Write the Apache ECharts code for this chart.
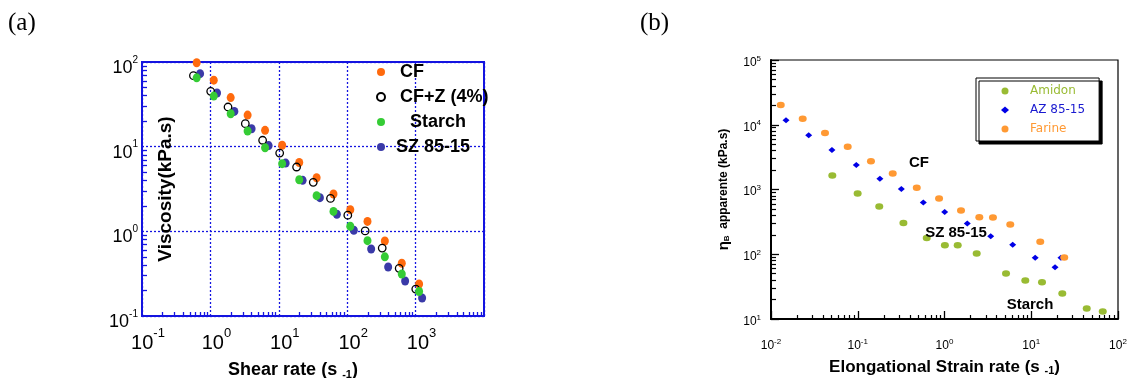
<!DOCTYPE html>
<html>
<head>
<meta charset="utf-8">
<title>Viscosity vs rate</title>
<script src="https://cdn.jsdelivr.net/npm/echarts@6.0.0/dist/echarts.min.js"></script>
<style>
  html, body { margin: 0; padding: 0; background: #fff; }
  #main { width: 1130px; height: 378px; }
</style>
</head>
<body>
<div id="main"></div>
<script>
// (a) shear viscosity, kPa.s vs shear rate s-1
const cfRate = [0.63, 1.12, 1.98, 3.5, 6.3, 11.2, 19.9, 35.7, 63, 111, 198, 355, 628, 1125];
const cfVisc = [98, 61, 38, 23.6, 15.6, 10.4, 6.5, 4.3, 2.76, 1.80, 1.31, 0.77, 0.42, 0.239];
const cfzRate = [0.565, 1.01, 1.81, 3.24, 5.8, 10.3, 18.2, 31.9, 57, 102, 183, 325, 575, 1005];
const cfzVisc = [69, 45, 29.4, 18.7, 11.9, 8.4, 5.75, 3.79, 2.45, 1.55, 1.01, 0.635, 0.366, 0.208];
const starchRate = [0.63, 1.12, 1.98, 3.5, 6.3, 11.2, 19.9, 35.7, 63, 111, 198, 355, 628, 1125];
const starchVisc = [65, 39.6, 24.5, 15.3, 9.7, 6.3, 4.07, 2.64, 1.72, 1.15, 0.776, 0.50, 0.313, 0.195];
const szRate = [0.707, 1.25, 2.24, 4.0, 7.1, 12.6, 22.3, 39.9, 70.6, 125, 224, 397, 703, 1245];
const szVisc = [72.8, 43, 26.1, 16.3, 10.3, 6.4, 4.0, 2.5, 1.59, 1.03, 0.618, 0.379, 0.259, 0.163];

// (b) apparent elongational viscosity, kPa.s vs elongational strain rate s-1
const amidonRate = [0.0509, 0.0997, 0.177, 0.336, 0.624, 1.01, 1.42, 2.35, 5.12, 8.54, 13.3, 22.8, 43.6, 66.7];
const amidonVisc = [1650, 871, 545, 303, 179, 138, 138, 103, 50.5, 39.4, 37.1, 24.8, 14.5, 13.1];
const azRate = [0.0149, 0.0272, 0.0504, 0.0962, 0.180, 0.318, 0.570, 1.005, 1.83, 3.41, 6.11, 11.1, 18.8, 22.0];
const azVisc = [11700, 6860, 4070, 2380, 1460, 1020, 628, 451, 299, 190, 140, 88, 63, 88];
const farineRate = [0.01295, 0.0232, 0.0419, 0.0766, 0.142, 0.253, 0.479, 0.865, 1.55, 2.52, 3.62, 5.73, 12.7, 24.0];
const farineVisc = [20100, 12400, 7450, 4570, 2720, 1770, 1060, 728, 475, 372, 368, 289, 156, 89];

// decade exponents that get a tick label
const shearTickExp = [-1, 0, 1, 2, 3];
const viscTickExpA = [-1, 0, 1, 2];
const strainTickExp = [-2, -1, 0, 1, 2];
const viscTickExpB = [1, 2, 3, 4, 5];

const FONT = 'Liberation Sans';
const BLUE = '#1414e0';

function pairs(xs, ys) {
  return xs.map((x, i) => [x, ys[i]]);
}
// 2..9 x 10^e minor tick values
function minorTicks(lo, hi) {
  const out = [];
  for (let e = lo; e < hi; e++) {
    for (let m = 2; m <= 9; m++) out.push(+(m * Math.pow(10, e)).toPrecision(3));
  }
  return out;
}
function powLabel(exps) {
  return function (v) {
    const e = Math.round(Math.log10(v));
    if (exps.indexOf(e) < 0) return '';
    return '{b|10}{sup|' + e + '}';
  };
}

const chart = echarts.init(document.getElementById('main'));

const option = {
  animation: false,
  backgroundColor: '#fff',
  grid: [
    { left: 142, top: 62, width: 342, height: 254, show: true, borderColor: BLUE, borderWidth: 2, outerBoundsMode: 'none', containLabel: false },
    { left: 771, top: 60, width: 347, height: 259, show: true, borderColor: '#000', borderWidth: 1.2, outerBoundsMode: 'none', containLabel: false }
  ],
  xAxis: [
    {
      type: 'log', gridIndex: 0, min: 0.1, max: 10000, position: 'bottom',
      name: 'Shear rate (s {sub|-1})', nameLocation: 'middle', nameGap: 44,
      nameTextStyle: {
        fontFamily: FONT, fontSize: 18, fontWeight: 'bold', color: '#000', lineHeight: 20,
        padding: [0, 40, 0, 0],
        rich: { sub: { fontSize: 11, fontWeight: 'bold', lineHeight: 14, verticalAlign: 'bottom' } }
      },
      axisLine: { show: true, lineStyle: { color: BLUE, width: 2 } },
      axisTick: { show: false },
      splitLine: { show: true, lineStyle: { color: BLUE, width: 1.3, type: [2, 2] } },
      axisLabel: {
        formatter: powLabel(shearTickExp), margin: 11, color: '#000', fontFamily: FONT,
        showMinLabel: true, showMaxLabel: true, padding: [0, 0, 0, 12],
        rich: {
          b: { fontSize: 20, lineHeight: 26, verticalAlign: 'bottom' },
          sup: { fontSize: 13, lineHeight: 13, verticalAlign: 'top' }
        }
      }
    },
    {
      type: 'log', gridIndex: 0, min: 0.1, max: 10000, position: 'bottom',
      axisLine: { show: false },
      axisTick: { show: true, inside: true, length: 4, customValues: minorTicks(-1, 4), lineStyle: { color: BLUE, width: 1.3 } },
      axisLabel: { show: false },
      splitLine: { show: false }
    },
    {
      type: 'log', gridIndex: 1, min: 0.01, max: 100, position: 'bottom',
      name: 'Elongational Strain rate (s {sub|-1})', nameLocation: 'middle', nameGap: 36,
      nameTextStyle: {
        fontFamily: FONT, fontSize: 17, fontWeight: 'bold', color: '#000', lineHeight: 20,
        rich: { sub: { fontSize: 11, fontWeight: 'bold', lineHeight: 14, verticalAlign: 'bottom' } }
      },
      axisLine: { show: true, lineStyle: { color: '#000', width: 2 } },
      axisTick: { show: true, inside: true, length: 8, lineStyle: { color: '#000', width: 1.3 } },
      splitLine: { show: false },
      axisLabel: {
        formatter: powLabel(strainTickExp), margin: 19, color: '#000', fontFamily: FONT,
        showMinLabel: true, showMaxLabel: true,
        rich: {
          b: { fontSize: 12, lineHeight: 14, verticalAlign: 'bottom' },
          sup: { fontSize: 8, lineHeight: 8, verticalAlign: 'top' }
        }
      }
    },
    {
      type: 'log', gridIndex: 1, min: 0.01, max: 100, position: 'bottom',
      axisLine: { show: false },
      axisTick: { show: true, inside: true, length: 4, customValues: minorTicks(-2, 2), lineStyle: { color: '#000', width: 1.2 } },
      axisLabel: { show: false },
      splitLine: { show: false }
    }
  ],
  yAxis: [
    {
      type: 'log', gridIndex: 0, min: 0.1, max: 100, position: 'left',
      name: 'Viscosity(kPa.s)', nameLocation: 'middle', nameRotate: 90, nameGap: -33,
      nameTextStyle: { fontFamily: FONT, fontSize: 19, fontWeight: 'bold', color: '#000' },
      axisLine: { show: true, lineStyle: { color: BLUE, width: 2 } },
      axisTick: { show: false },
      splitLine: { show: true, lineStyle: { color: BLUE, width: 1.3, type: [2, 2] } },
      axisLabel: {
        formatter: powLabel(viscTickExpA), margin: 4, color: '#000', fontFamily: FONT,
        showMinLabel: true, showMaxLabel: true, padding: [8, 0, 0, 0],
        rich: {
          b: { fontSize: 18, lineHeight: 22, verticalAlign: 'bottom' },
          sup: { fontSize: 10, lineHeight: 10, verticalAlign: 'top' }
        }
      }
    },
    {
      type: 'log', gridIndex: 0, min: 0.1, max: 100, position: 'left',
      axisLine: { show: false },
      axisTick: { show: true, inside: true, length: 5, customValues: minorTicks(-1, 2), lineStyle: { color: BLUE, width: 1.3 } },
      axisLabel: { show: false },
      splitLine: { show: false }
    },
    {
      type: 'log', gridIndex: 1, min: 10, max: 100000, position: 'left',
      name: '{eta|η}{sub|B}  apparente (kPa.s)', nameLocation: 'middle', nameRotate: 90, nameGap: 40,
      nameTextStyle: {
        fontFamily: FONT, fontSize: 12, fontWeight: 'bold', color: '#000',
        rich: {
          eta: { fontSize: 15, fontWeight: 'bold' },
          sub: { fontSize: 8, fontWeight: 'bold', verticalAlign: 'bottom' }
        }
      },
      axisLine: { show: true, lineStyle: { color: '#000', width: 2 } },
      axisTick: { show: true, inside: true, length: 8, lineStyle: { color: '#000', width: 1.3 } },
      splitLine: { show: false },
      axisLabel: {
        formatter: powLabel(viscTickExpB), margin: 10, color: '#000', fontFamily: FONT,
        showMinLabel: true, showMaxLabel: true, padding: [3, 0, 0, 0],
        rich: {
          b: { fontSize: 12, lineHeight: 14, verticalAlign: 'bottom' },
          sup: { fontSize: 8, lineHeight: 8, verticalAlign: 'top' }
        }
      }
    },
    {
      type: 'log', gridIndex: 1, min: 10, max: 100000, position: 'left',
      axisLine: { show: false },
      axisTick: { show: true, inside: true, length: 5, customValues: minorTicks(1, 5), lineStyle: { color: '#000', width: 1.2 } },
      axisLabel: { show: false },
      splitLine: { show: false }
    }
  ],
  legend: [
    {
      orient: 'vertical', left: 376, top: 63, padding: 0, itemGap: 7,
      itemWidth: 8, itemHeight: 9,
      selectedMode: false,
      textStyle: { fontFamily: FONT, fontSize: 18, fontWeight: 'bold', color: '#000', lineHeight: 18 },
      data: [
        { name: 'CF', icon: 'circle', textStyle: { padding: [0, 0, 0, 10] } },
        { name: 'CF+Z (4%)', icon: 'circle', textStyle: { padding: [0, 0, 0, 10] } },
        { name: 'Starch', icon: 'circle', textStyle: { padding: [0, 0, 0, 20] } },
        { name: 'SZ 85-15', icon: 'circle', textStyle: { padding: [0, 0, 0, 6] } }
      ]
    },
    {
      orient: 'vertical', left: 976, top: 78, padding: [6, 14, 5, 25], itemGap: 5,
      itemWidth: 8, itemHeight: 7,
      selectedMode: false,
      backgroundColor: '#fff', borderColor: '#000', borderWidth: 1,
      shadowColor: '#000', shadowBlur: 0, shadowOffsetX: 3, shadowOffsetY: 3,
      textStyle: { fontFamily: 'DejaVu Sans', fontSize: 12, lineHeight: 14, padding: [0, 0, 0, 16] },
      data: [
        { name: 'Amidon', icon: 'circle', textStyle: { color: '#99bb33' } },
        { name: 'AZ 85-15', icon: 'diamond', textStyle: { color: '#1a1ad0' } },
        { name: 'Farine', icon: 'circle', textStyle: { color: '#ff9933' } }
      ]
    }
  ],
  graphic: [
    { type: 'text', left: 8, top: 11, style: { text: '(a)', fontFamily: 'Liberation Serif', fontSize: 25, fill: '#000' } },
    { type: 'text', left: 640, top: 11, style: { text: '(b)', fontFamily: 'Liberation Serif', fontSize: 25, fill: '#000' } },
    { type: 'text', x: 919, y: 163, style: { text: 'CF', fontFamily: FONT, fontSize: 15, fontWeight: 'bold', fill: '#000', align: 'center', verticalAlign: 'middle' }, z: 10 },
    { type: 'text', x: 956, y: 233, style: { text: 'SZ 85-15', fontFamily: FONT, fontSize: 15, fontWeight: 'bold', fill: '#000', align: 'center', verticalAlign: 'middle' }, z: 10 },
    { type: 'text', x: 1030, y: 305, style: { text: 'Starch', fontFamily: FONT, fontSize: 15, fontWeight: 'bold', fill: '#000', align: 'center', verticalAlign: 'middle' }, z: 10 }
  ],
  series: [
    {
      name: 'SZ 85-15', type: 'scatter', xAxisIndex: 0, yAxisIndex: 0,
      symbol: 'circle', symbolSize: [8, 9],
      itemStyle: { color: '#3a3aa8', opacity: 1 },
      data: pairs(szRate, szVisc)
    },
    {
      name: 'CF', type: 'scatter', xAxisIndex: 0, yAxisIndex: 0,
      symbol: 'circle', symbolSize: [8, 9],
      itemStyle: { color: '#ff6a0d', opacity: 1 },
      data: pairs(cfRate, cfVisc)
    },
    {
      name: 'CF+Z (4%)', type: 'scatter', xAxisIndex: 0, yAxisIndex: 0,
      symbol: 'circle', symbolSize: 7.5,
      itemStyle: { color: 'rgba(255,255,255,0)', borderColor: '#000', borderWidth: 1.3, opacity: 1 },
      data: pairs(cfzRate, cfzVisc)
    },
    {
      name: 'Starch', type: 'scatter', xAxisIndex: 0, yAxisIndex: 0,
      symbol: 'circle', symbolSize: [8, 9],
      itemStyle: { color: '#35cc35', opacity: 1 },
      data: pairs(starchRate, starchVisc)
    },
    {
      name: 'Amidon', type: 'scatter', xAxisIndex: 2, yAxisIndex: 2,
      symbol: 'circle', symbolSize: [8, 6.5],
      itemStyle: { color: '#99bb33', opacity: 1 },
      data: pairs(amidonRate, amidonVisc)
    },
    {
      name: 'AZ 85-15', type: 'scatter', xAxisIndex: 2, yAxisIndex: 2,
      symbol: 'diamond', symbolSize: [7, 6],
      itemStyle: { color: '#0000e6', opacity: 1 },
      data: pairs(azRate, azVisc)
    },
    {
      name: 'Farine', type: 'scatter', xAxisIndex: 2, yAxisIndex: 2,
      symbol: 'circle', symbolSize: [8, 6.5],
      itemStyle: { color: '#ff9933', opacity: 1 },
      data: pairs(farineRate, farineVisc)
    }
  ]
};

chart.setOption(option);
</script>
</body>
</html>
